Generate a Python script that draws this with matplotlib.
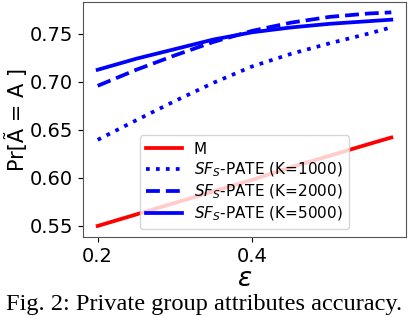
# %% Biblioteki
import matplotlib.pyplot as plt
import numpy as np

# %% Dane
eps = [0.20, 0.25, 0.30, 0.35, 0.40, 0.45, 0.50, 0.55, 0.58]
acc_m = [0.550, 0.562, 0.574, 0.586, 0.598, 0.611, 0.623, 0.635, 0.642]
acc_k1000 = [0.6396, 0.6600, 0.6800, 0.6990, 0.7160, 0.7290, 0.7400, 0.7500, 0.7566]
acc_k2000 = [0.6958, 0.7125, 0.7275, 0.7415, 0.7530, 0.7615, 0.7675, 0.7710, 0.7722]
acc_k5000 = [0.7125, 0.7240, 0.7340, 0.7440, 0.7515, 0.7565, 0.7603, 0.7630, 0.7646]

x_ticks = [0.2, 0.4]
y_ticks = [0.55, 0.60, 0.65, 0.70, 0.75]

# %% Wykres
fig = plt.figure(figsize=(4.08, 3.16), dpi=100)
ax = fig.add_axes([83 / 408, 1 - 237 / 316, 323 / 408, 235 / 316])

lw = 2.7
ax.plot(eps, acc_m, color="red", lw=lw, label="M")
ax.plot(eps, acc_k1000, color="blue", lw=lw, ls=":", label=r"$SF_S$-PATE (K=1000)")
ax.plot(eps, acc_k2000, color="blue", lw=lw, ls="--", label=r"$SF_S$-PATE (K=2000)")
ax.plot(eps, acc_k5000, color="blue", lw=lw, ls="-", label=r"$SF_S$-PATE (K=5000)")

ax.set_xlim(0.181, 0.599)
ax.set_ylim(0.5385, 0.783)
ax.set_xticks(x_ticks)
ax.set_yticks(y_ticks)
ax.set_xticklabels([f"{t:.1f}" for t in x_ticks])
ax.set_yticklabels([f"{t:.2f}" for t in y_ticks])
ax.tick_params(labelsize=14)
for s in ax.spines.values():
    s.set_color("#555555")

ax.set_xlabel(r"$\epsilon$", fontsize=19, labelpad=0)
ax.set_ylabel("Pr[Ã = A ]", fontsize=15, labelpad=1)
ax.legend(loc="lower center", fontsize=11, handlelength=2.3,
          borderaxespad=0.5, labelspacing=0.25)

fig.text(0.5, 0.018, "Fig. 2: Private group attributes accuracy.",
         ha="center", va="baseline", fontsize=17.6, family="Liberation Serif")

fig.savefig("out.png", dpi=100)
